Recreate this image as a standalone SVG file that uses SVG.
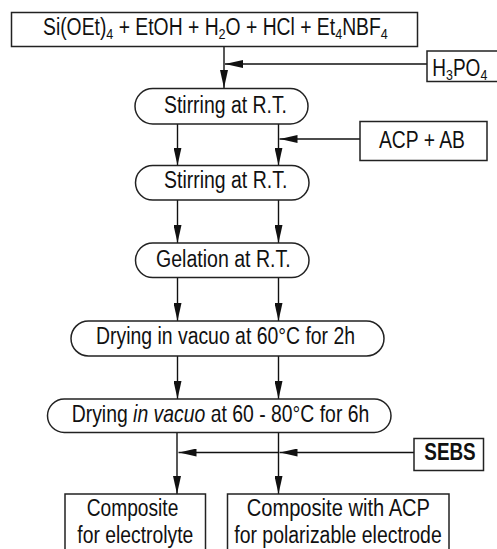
<svg xmlns="http://www.w3.org/2000/svg" width="497" height="549" viewBox="0 0 497 549">
<style>
.b{fill:#fff;stroke:#222;stroke-width:1.5}
.t{font-family:"Liberation Sans",Arial,sans-serif;font-size:23px;fill:#111}
.s{font-size:15px}
.c line{stroke:#111;stroke-width:1.4}
</style>
<defs>
<marker id="a" markerUnits="userSpaceOnUse" markerWidth="18" markerHeight="8" refX="18" refY="4" orient="auto">
<path d="M0,0 L18,4 L0,8 z" fill="#111"/>
</marker>
</defs>
<rect width="497" height="549" fill="#fff"/>
<g id="connectors" class="c">
<line x1="224" y1="47" x2="224" y2="88" marker-end="url(#a)"/>
<line x1="427" y1="64" x2="225" y2="64" marker-end="url(#a)"/>
<line x1="177.5" y1="124" x2="177.5" y2="165.5" marker-end="url(#a)"/>
<line x1="278.5" y1="124" x2="278.5" y2="165.5" marker-end="url(#a)"/>
<line x1="360" y1="139" x2="279.5" y2="139" marker-end="url(#a)"/>
<line x1="177.5" y1="200" x2="177.5" y2="243" marker-end="url(#a)"/>
<line x1="278.5" y1="200" x2="278.5" y2="243" marker-end="url(#a)"/>
<line x1="177.5" y1="277.5" x2="177.5" y2="321" marker-end="url(#a)"/>
<line x1="278.5" y1="277.5" x2="278.5" y2="321" marker-end="url(#a)"/>
<line x1="177.5" y1="356" x2="177.5" y2="399" marker-end="url(#a)"/>
<line x1="278.5" y1="356" x2="278.5" y2="399" marker-end="url(#a)"/>
<line x1="177" y1="432.5" x2="177" y2="494" marker-end="url(#a)"/>
<line x1="278.5" y1="432.5" x2="278.5" y2="494" marker-end="url(#a)"/>
<line x1="414" y1="452.5" x2="279.5" y2="452.5" marker-end="url(#a)"/>
<line x1="279" y1="452.5" x2="178.5" y2="452.5" marker-end="url(#a)"/>
</g>
<g id="start">
<rect class="b" x="11.5" y="12.5" width="406" height="34"/>
<text class="t" transform="translate(43,34.5) scale(0.8405,1)">Si(OEt)<tspan class="s" dy="4.5">4</tspan><tspan dy="-4.5"> + EtOH + H</tspan><tspan class="s" dy="4.5">2</tspan><tspan dy="-4.5">O + HCl + Et</tspan><tspan class="s" dy="4.5">4</tspan><tspan dy="-4.5">NBF</tspan><tspan class="s" dy="4.5">4</tspan></text>
</g>
<g id="h3po4">
<rect class="b" x="427" y="51" width="72" height="30.5"/>
<text class="t" transform="translate(432.3,76) scale(0.827,1)">H<tspan class="s" dy="4">3</tspan><tspan dy="-4">PO</tspan><tspan class="s" dy="4">4</tspan></text>
</g>
<g id="stir1">
<rect class="b" x="135" y="88.5" width="173" height="35.5" rx="17.75"/>
<text class="t" x="164" y="113" textLength="123" lengthAdjust="spacingAndGlyphs">Stirring at R.T.</text>
</g>
<g id="acpab">
<rect class="b" x="360" y="121.5" width="127" height="39"/>
<text class="t" x="379" y="148.3" textLength="86" lengthAdjust="spacingAndGlyphs">ACP + AB</text>
</g>
<g id="stir2">
<rect class="b" x="135.5" y="165.5" width="173.5" height="34.5" rx="17.25"/>
<text class="t" x="164" y="188.3" textLength="123.3" lengthAdjust="spacingAndGlyphs">Stirring at R.T.</text>
</g>
<g id="gel">
<rect class="b" x="135.5" y="243" width="173.5" height="34.5" rx="17.25"/>
<text class="t" x="156" y="266.7" textLength="134.7" lengthAdjust="spacingAndGlyphs">Gelation at R.T.</text>
</g>
<g id="dry1">
<rect class="b" x="71" y="321" width="313" height="35" rx="17.5"/>
<text class="t" x="96" y="344.3" textLength="259" lengthAdjust="spacingAndGlyphs">Drying in vacuo at 60°C for 2h</text>
</g>
<g id="dry2">
<rect class="b" x="47.5" y="399" width="343.5" height="33.5" rx="16.75"/>
<text class="t" transform="translate(71.7,421.7) scale(0.843,1)">Drying <tspan font-style="italic">in vacuo</tspan> at 60 - 80°C for 6h</text>
</g>
<g id="sebs">
<rect class="b" x="414" y="438.5" width="69.5" height="32"/>
<text class="t" x="424.3" y="460" font-weight="bold" textLength="51.4" lengthAdjust="spacingAndGlyphs">SEBS</text>
</g>
<g id="electrolyte">
<rect class="b" x="65" y="494" width="140.5" height="70"/>
<text class="t" x="86.7" y="516" textLength="91.6" lengthAdjust="spacingAndGlyphs">Composite</text>
<text class="t" x="77.3" y="542.7" textLength="116" lengthAdjust="spacingAndGlyphs">for electrolyte</text>
</g>
<g id="electrode">
<rect class="b" x="227.5" y="494" width="221.5" height="70"/>
<text class="t" x="246.7" y="516" textLength="183.3" lengthAdjust="spacingAndGlyphs">Composite with ACP</text>
<text class="t" x="234.3" y="542.7" textLength="207.4" lengthAdjust="spacingAndGlyphs">for polarizable electrode</text>
</g>
</svg>
